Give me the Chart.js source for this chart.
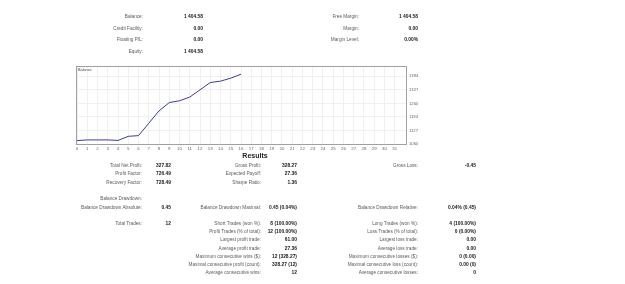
<!DOCTYPE html>
<html lang="en">
<head>
    <meta charset="UTF-8">
    <title>Strategy Report</title>
    <script src="https://cdn.jsdelivr.net/npm/chart.js"></script>
    <style>
        html, body { margin: 0; padding: 0; background: #fff; }
        .page { position: relative; width: 625px; height: 284px; overflow: hidden; font-family: "Liberation Sans", Arial, sans-serif; }
        #balanceChart { position: absolute; left: 0; top: 0; }
        .t { position: absolute; white-space: nowrap; line-height: 6px; height: 6px; font-size: 4.7px; color: #5a5a5a; text-align: right; }
        .v { font-weight: bold; color: #1a1a1a; font-size: 4.9px; }
        .title { position: absolute; left: 225px; width: 60px; top: 152px; text-align: center; font-weight: bold; font-size: 7px; color: #222; }
        .tag { position: absolute; left: 78px; top: 68px; font-size: 3.8px; color: #444; }
    </style>
</head>
<body>
<div class="page" id="page">
    <canvas id="balanceChart" width="625" height="284"></canvas>
    <div class="tag">Balance</div>
    <div class="title">Results</div>
</div>
<script>
    // balance curve (deal number -> balance)
    const dealNo = [0, 1, 2, 3, 4, 5, 6, 7, 8, 9, 10, 11, 12, 13, 14, 15, 16];
    const balance = [1076.76, 1080.2, 1080.2, 1080.2, 1077.6, 1097.9, 1101.3, 1162.3, 1223.3, 1264.5, 1273.4, 1291.5, 1327.4, 1363.3, 1370.2, 1384.9, 1404.58];
    const yTicks = [1060, 1126.8, 1193.6, 1260.4, 1327.2, 1394];
    const yTickLabels = ['1060', '1127', '1194', '1260', '1327', '1394'];
    const xTicks = [0, 1, 2, 3, 4, 5, 6, 7, 8, 9, 10, 11, 12, 13, 14, 15, 16, 17, 18, 19, 20, 21, 22, 23, 24, 25, 26, 27, 28, 29, 30, 31];

    // header block: [label, value]
    const headLeft = [['Balance:', '1 404.58'], ['Credit Facility:', '0.00'], ['Floating P/L:', '0.00'], ['Equity:', '1 404.58']];
    const headRight = [['Free Margin:', '1 404.58'], ['Margin:', '0.00'], ['Margin Level:', '0.00%']];
    const headRows = [16.5, 28.5, 40, 51.7];

    // results block: [y, col1 label, col1 value, col2 label, col2 value, col3 label, col3 value]
    const results = [
        [166, 'Total Net Profit:', '327.82', 'Gross Profit:', '328.27', 'Gross Loss:', '-0.45'],
        [174.3, 'Profit Factor:', '726.49', 'Expected Payoff:', '27.36', '', ''],
        [183.3, 'Recovery Factor:', '728.49', 'Sharpe Ratio:', '1.36', '', ''],
        [199, 'Balance Drawdown:', '', '', '', '', ''],
        [207.7, 'Balance Drawdown Absolute:', '0.45', 'Balance Drawdown Maximal:', '0.45 (0.04%)', 'Balance Drawdown Relative:', '0.04% (0.45)'],
        [224, 'Total Trades:', '12', 'Short Trades (won %):', '8 (100.00%)', 'Long Trades (won %):', '4 (100.00%)'],
        [232.3, '', '', 'Profit Trades (% of total):', '12 (100.00%)', 'Loss Trades (% of total):', '0 (0.00%)'],
        [240.3, '', '', 'Largest profit trade:', '61.00', 'Largest loss trade:', '0.00'],
        [248.7, '', '', 'Average profit trade:', '27.36', 'Average loss trade:', '0.00'],
        [256.7, '', '', 'Maximum consecutive wins ($):', '12 (328.27)', 'Maximum consecutive losses ($):', '0 (0.00)'],
        [264.7, '', '', 'Maximal consecutive profit (count):', '328.27 (12)', 'Maximal consecutive loss (count):', '0.00 (0)'],
        [273.3, '', '', 'Average consecutive wins:', '12', 'Average consecutive losses:', '0']
    ];

    const page = document.getElementById('page');
    function put(text, rightX, y, bold) {
        if (!text) return;
        const d = document.createElement('div');
        d.className = bold ? 't v' : 't';
        d.textContent = text;
        d.style.right = (625 - rightX) + 'px';
        d.style.top = (y - 3) + 'px';
        page.appendChild(d);
    }
    headLeft.forEach((r, i) => { put(r[0], 143, headRows[i]); put(r[1], 203, headRows[i], true); });
    headRight.forEach((r, i) => { put(r[0], 359, headRows[i]); put(r[1], 418, headRows[i], true); });
    const labelCols = [142, 261, 418];
    const valueCols = [171, 297, 476];
    results.forEach(r => {
        for (let c = 0; c < 3; c++) {
            put(r[1 + c * 2], labelCols[c], r[0]);
            put(r[2 + c * 2], valueCols[c], r[0], true);
        }
    });

    // frame around the plot
    const framePlugin = {
        id: 'frame',
        afterDraw(chart) {
            const a = chart.chartArea, ctx = chart.ctx;
            ctx.save();
            ctx.strokeStyle = '#a0a0a0';
            ctx.lineWidth = 1;
            ctx.strokeRect(Math.round(a.left) + 0.5, Math.round(a.top) + 0.5, Math.round(a.right - a.left), Math.round(a.bottom - a.top));
            ctx.restore();
        }
    };

    const ctx = document.getElementById('balanceChart').getContext('2d');
    new Chart(ctx, {
        type: 'line',
        data: {
            datasets: [{
                data: dealNo.map((x, i) => ({ x: x, y: balance[i] })),
                borderColor: '#3b3b9c',
                borderWidth: 1,
                pointRadius: 0,
                tension: 0
            }]
        },
        options: {
            responsive: false,
            animation: false,
            events: [],
            layout: { padding: { left: 76, top: 66, right: 205, bottom: 132 } },
            plugins: { legend: { display: false }, tooltip: { enabled: false } },
            scales: {
                x: {
                    type: 'linear',
                    min: -0.1,
                    max: 32.1,
                    afterBuildTicks: s => { s.ticks = xTicks.map(v => ({ value: v })); },
                    afterFit: s => { s.height = 8; },
                    grid: { color: '#f0f0f0', drawTicks: false },
                    border: { display: false },
                    ticks: { color: '#666', font: { size: 4.4, family: 'Liberation Sans' }, padding: 2, maxRotation: 0, autoSkip: false, callback: v => String(v) }
                },
                y: {
                    position: 'right',
                    min: 1060,
                    max: 1445,
                    afterBuildTicks: s => { s.ticks = yTicks.map(v => ({ value: v })); },
                    afterFit: s => { s.width = 14; },
                    grid: { color: '#f0f0f0', drawTicks: false },
                    border: { display: false },
                    ticks: { color: '#666', font: { size: 4.2, family: 'Liberation Sans' }, padding: 3, callback: (v, i) => yTickLabels[i] }
                }
            }
        },
        plugins: [framePlugin]
    });
</script>
</body>
</html>
